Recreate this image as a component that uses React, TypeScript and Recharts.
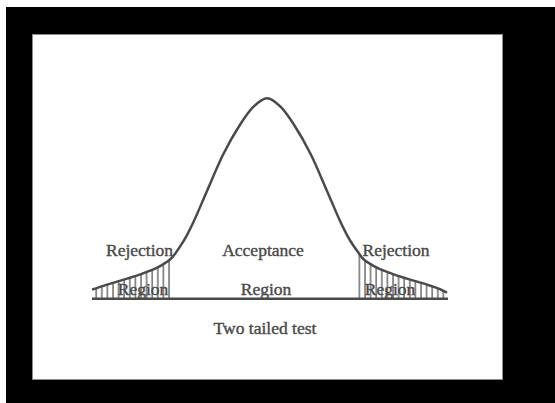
import React from 'react';
import {
  ComposedChart, Line, Area, XAxis, YAxis, ReferenceLine, ReferenceDot,
} from 'recharts';

// bell curve read in standard units (x) against density (y)
const xValues = [
  -3.5, -3.2, -2.8, -2.44, -2.12, -1.9, -1.74, -1.6, -1.48, -1.2, -0.88, -0.54, -0.28, 0,
  0.28, 0.54, 0.88, 1.2, 1.48, 1.6, 1.74, 1.82, 1.9, 2.12, 2.44, 2.8, 3.2, 3.46, 3.6,
];
const density = [
  0.018, 0.028, 0.04, 0.052, 0.066, 0.082, 0.104, 0.127, 0.151, 0.215, 0.287, 0.347, 0.382, 0.4,
  0.382, 0.347, 0.287, 0.215, 0.151, 0.127, 0.104, 0.093, 0.082, 0.066, 0.052, 0.04, 0.028, 0.019, 0.012,
];

// critical values bounding the two rejection regions
const leftCritical = -1.9;
const rightCritical = 1.82;

const regionLabels = [
  { text: 'Rejection', x: -2.55, y: 0.098 },
  { text: 'Region', x: -2.48, y: 0.0203 },
  { text: 'Acceptance', x: -0.08, y: 0.098 },
  { text: 'Region', x: -0.02, y: 0.0203 },
  { text: 'Rejection', x: 2.58, y: 0.098 },
  { text: 'Region', x: 2.46, y: 0.0203 },
  { text: 'Two tailed test', x: -0.04, y: -0.0574 },
];

const INK = '#4a4a4a';
const FONT = '"Liberation Serif", "DejaVu Serif", serif';

const data = xValues.map((x, i) => ({
  x,
  y: density[i],
  left: x <= leftCritical ? density[i] : null,
  right: x >= rightCritical ? density[i] : null,
}));

export default function App() {
  return (
    <div style={{ position: 'absolute', left: 0, top: 0, width: 555, height: 403, background: '#fff' }}>
      <div style={{ position: 'absolute', left: 6, top: 7, width: 549, height: 396, background: '#000' }} />
      <div
        style={{
          position: 'absolute', left: 32, top: 34, width: 471, height: 346,
          background: '#fff', border: '1px solid #8a8a8a', boxSizing: 'border-box',
        }}
      />
      <div style={{ position: 'absolute', left: 0, top: 0 }}>
        <ComposedChart
          width={555}
          height={403}
          data={data}
          margin={{ top: 48, right: 38, left: 17, bottom: 4 }}
        >
          <defs>
            <pattern id="hatch" patternUnits="userSpaceOnUse" width={5.6} height={10}>
              <line x1={1} y1={0} x2={1} y2={10} stroke={INK} strokeWidth={1.2} />
            </pattern>
          </defs>
          <XAxis dataKey="x" type="number" domain={[-5, 5]} hide allowDataOverflow />
          <YAxis type="number" domain={[-0.2, 0.5]} hide allowDataOverflow />
          <Area
            dataKey="left"
            type="monotone"
            stroke="none"
            fill="url(#hatch)"
            fillOpacity={1}
            isAnimationActive={false}
          />
          <Area
            dataKey="right"
            type="monotone"
            stroke="none"
            fill="url(#hatch)"
            fillOpacity={1}
            isAnimationActive={false}
          />
          <ReferenceLine
            segment={[{ x: -3.5, y: 0 }, { x: 3.62, y: 0 }]}
            stroke={INK}
            strokeWidth={2.5}
          />
          <Line
            dataKey="y"
            type="monotone"
            stroke={INK}
            strokeWidth={2.5}
            dot={false}
            isAnimationActive={false}
          />
          {regionLabels.map((l, i) => (
            <ReferenceDot
              key={i}
              x={l.x}
              y={l.y}
              r={0}
              fill="none"
              stroke="none"
              ifOverflow="visible"
              label={{
                value: l.text,
                position: 'center',
                fill: INK,
                stroke: INK,
                strokeWidth: 0.4,
                fontSize: 17.5,
                fontFamily: FONT,
              }}
            />
          ))}
        </ComposedChart>
      </div>
    </div>
  );
}
